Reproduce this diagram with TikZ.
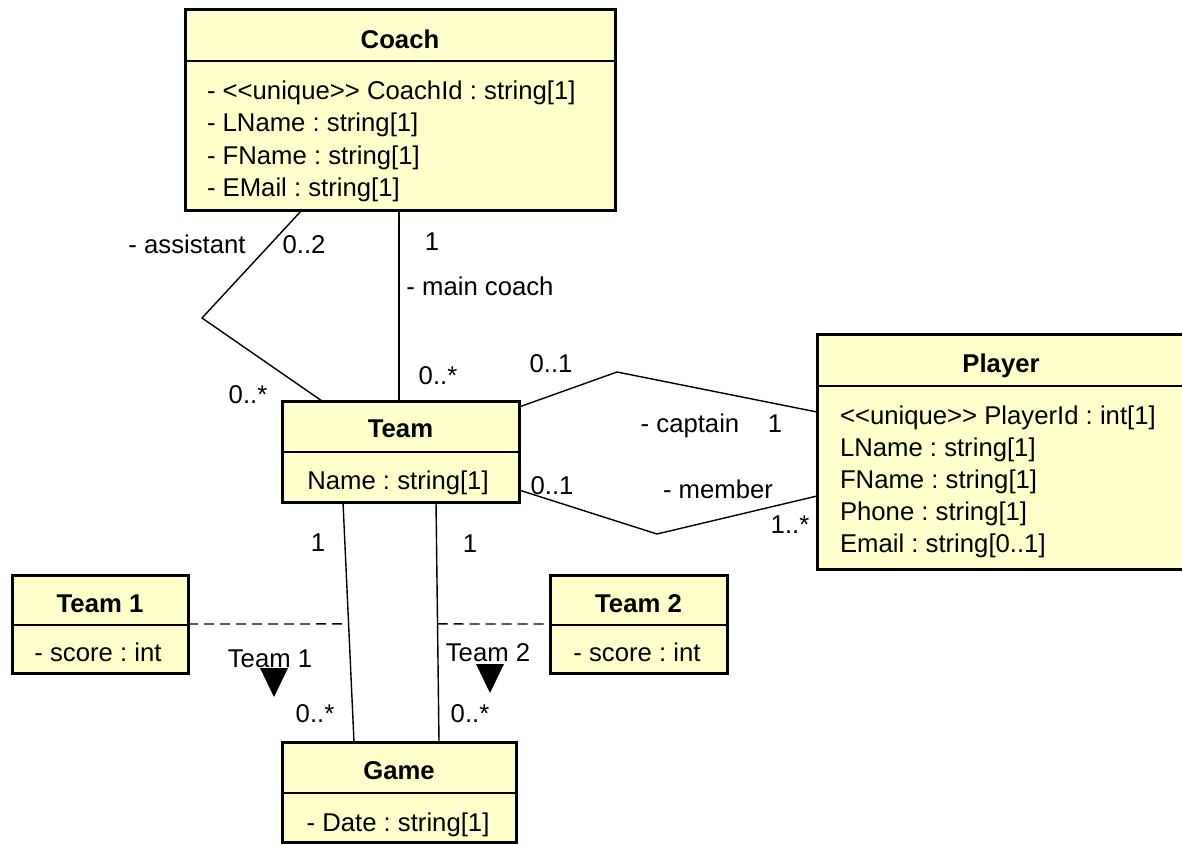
\documentclass[tikz,border=0pt]{standalone}
\usepackage{fontspec}
\newfontfamily\uml{Liberation Sans}
\usetikzlibrary{calc}
\definecolor{classfill}{HTML}{FFFFCC}
\pgfdeclarelayer{bg}
\pgfdeclarelayer{lines}
\pgfsetlayers{bg,lines,main}
\frenchspacing
\begin{document}
\begin{tikzpicture}[x=1pt,y=-1pt,
  every node/.style={font=\uml\fontsize{25.7}{31}\selectfont\frenchspacing, inner sep=0pt, outer sep=0pt},
  classbox/.style={draw, line width=3pt, fill=classfill, rectangle, anchor=north west},
  divider/.style={line width=1.5pt},
  conn/.style={line width=1.4pt},
  dashconn/.style={line width=1.4pt, dash pattern=on 10pt off 6pt},
  lbl/.style={anchor=base},
  attr/.style={anchor=base west},
  attrc/.style={anchor=base},
  clstitle/.style={anchor=base, font=\uml\fontsize{25.7}{31}\selectfont\bfseries\frenchspacing}]
\useasboundingbox (0,0) rectangle (1182,844);
\clip (0,0) rectangle (1182,844);
\begin{pgfonlayer}{bg}
\fill[white] (0,0) rectangle (1182,844);
\end{pgfonlayer}

% ---- classes ----
\node[classbox, minimum width=430pt, minimum height=201pt] (coach) at (185,9) {};
\draw[divider] ($(coach.north west)+(0,52)$) -- ($(coach.north east)+(0,52)$);
\node[clstitle] (coachT) at (400,48.5) {Coach};
\node[attr] (coachA1) at (207,99) {- <<unique>> CoachId : string[1]};
\node[attr] (coachA2) at (207,131.5) {- LName : string[1]};
\node[attr] (coachA3) at (207,164) {- FName : string[1]};
\node[attr] (coachA4) at (207,196) {- EMail : string[1]};

\node[classbox, minimum width=369pt, minimum height=235pt] (player) at (817,334) {};
\draw[divider] ($(player.north west)+(0,52)$) -- ($(player.north east)+(0,52)$);
\node[clstitle] (playerT) at (1001,372) {Player};
\node[attr] (playerA1) at (840,424) {<<unique>> PlayerId : int[1]};
\node[attr] (playerA2) at (840,456.5) {LName : string[1]};
\node[attr] (playerA3) at (840,488.5) {FName : string[1]};
\node[attr] (playerA4) at (840,520.5) {Phone : string[1]};
\node[attr] (playerA5) at (840,552.5) {Email : string[0..1]};

\node[classbox, minimum width=237pt, minimum height=101pt] (team) at (282,401) {};
\draw[divider] ($(team.north west)+(0,51)$) -- ($(team.north east)+(0,51)$);
\node[clstitle] (teamT) at (400.5,437.5) {Team};
\node[attrc] (teamA1) at (398,489.5) {Name : string[1]};

\node[classbox, minimum width=176pt, minimum height=98pt] (team1) at (12,575) {};
\draw[divider] ($(team1.north west)+(0,50)$) -- ($(team1.north east)+(0,50)$);
\node[clstitle] (team1T) at (100,612) {Team 1};
\node[attrc] (team1A1) at (98,661.5) {- score : int};

\node[classbox, minimum width=177pt, minimum height=98pt] (team2) at (550,575) {};
\draw[divider] ($(team2.north west)+(0,50)$) -- ($(team2.north east)+(0,50)$);
\node[clstitle] (team2T) at (638.5,612) {Team 2};
\node[attrc] (team2A1) at (637,661.5) {- score : int};

\node[classbox, minimum width=234pt, minimum height=100pt] (game) at (282,742) {};
\draw[divider] ($(game.north west)+(0,51)$) -- ($(game.north east)+(0,51)$);
\node[clstitle] (gameT) at (399,779.5) {Game};
\node[attrc] (gameA1) at (398,831) {- Date : string[1]};

% ---- connectors ----
\begin{pgfonlayer}{lines}
\coordinate (asA) at ($(coach.south west)+(117,0)$);
\coordinate (asB) at (202,318);
\coordinate (asC) at ($(team.north west)+(40,0)$);
\draw[conn] (asA) -- (asB) -- (asC);
\coordinate (mcA) at ($(coach.south west)+(214,0)$);
\coordinate (mcB) at ($(team.north west)+(117,0)$);
\draw[conn] (mcA) -- (mcB);
\coordinate (caA) at ($(team.north east)+(0,6)$);
\coordinate (caB) at (617,372);
\coordinate (caC) at ($(player.north west)+(0,78)$);
\draw[conn] (caA) -- (caB) -- (caC);
\coordinate (meA) at ($(team.north east)+(0,89)$);
\coordinate (meB) at (657,534);
\coordinate (meC) at ($(player.north west)+(0,162)$);
\draw[conn] (meA) -- (meB) -- (meC);
\coordinate (g1A) at ($(team.south west)+(61,0)$);
\coordinate (g1B) at ($(game.north west)+(72,0)$);
\draw[conn] (g1A) -- (g1B);
\coordinate (g2A) at ($(team.south west)+(154,0)$);
\coordinate (g2B) at ($(game.north west)+(157,0)$);
\draw[conn] (g2A) -- (g2B);
\coordinate (d1) at ($(g1A)!0.508!(g1B)$);
\coordinate (d2) at ($(g2A)!0.508!(g2B)$);
\draw[dashconn] (team1.east) -- (d1);
\draw[dashconn] (d2) -- (team2.west);
\end{pgfonlayer}

% ---- labels ----
\node[lbl] (l1) at (187,253.5) {- assistant};
\node[lbl] (l2) at (304,253.5) {0..2};
\node[lbl] (l3) at (432,250) {1};
\node[lbl] (l4) at (480,295.5) {- main coach};
\node[lbl] (l5) at (248,403) {0..*};
\node[lbl] (l6) at (438,384) {0..*};
\node[lbl] (l7) at (551,372.5) {0..1};
\node[lbl] (l8) at (690,432) {- captain};
\node[lbl] (l9) at (775,432) {1};
\node[lbl] (l10) at (552,494) {0..1};
\node[lbl] (l11) at (718,498.5) {- member};
\node[lbl] (l12) at (790,533) {1..*};
\node[lbl] (l13) at (318,551) {1};
\node[lbl] (l14) at (470,552) {1};
\node[lbl] (l15) at (270,667) {Team 1};
\node[lbl] (l16) at (488,661) {Team 2};
\node[lbl] (l17) at (315,722.5) {0..*};
\node[lbl] (l18) at (470,722.5) {0..*};

% ---- navigability triangles ----
\fill (260,668) -- (288,668) -- (274,697) -- cycle;
\fill (476,664) -- (504,664) -- (490,693) -- cycle;
\end{tikzpicture}
\end{document}
